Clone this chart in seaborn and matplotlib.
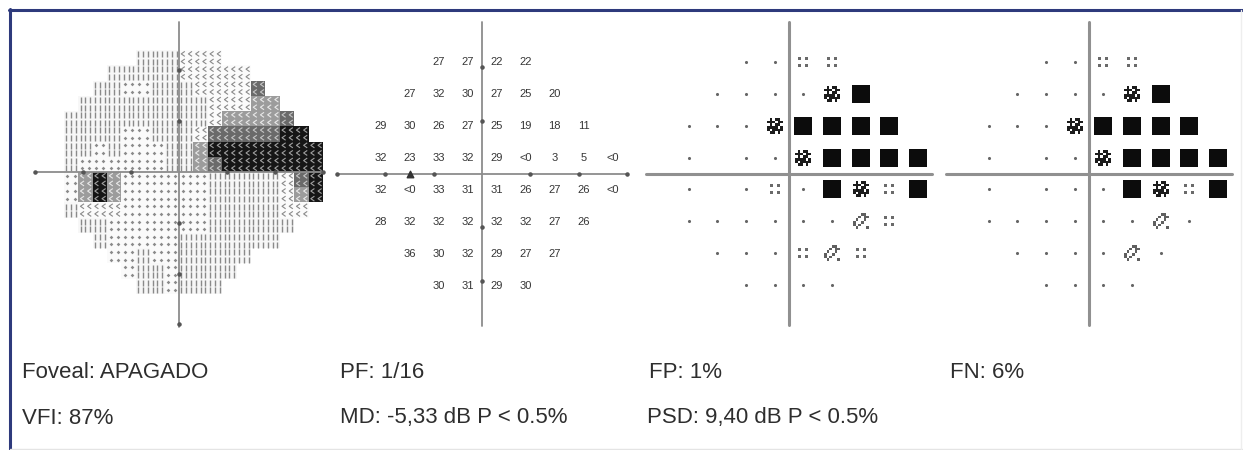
import numpy as np
import pandas as pd
import matplotlib
matplotlib.use("Agg")
import matplotlib.pyplot as plt
from matplotlib.path import Path
from matplotlib.colors import ListedColormap
from matplotlib.lines import Line2D
import seaborn as sns

# ---------------- data ----------------
ROW_Y = [21, 15, 9, 3, -3, -9, -15, -21]
ROW_X = [
    [-9, -3, 3, 9],
    [-15, -9, -3, 3, 9, 15],
    [-21, -15, -9, -3, 3, 9, 15, 21],
    [-21, -15, -9, -3, 3, 9, 15, 21, 27],
    [-21, -15, -9, -3, 3, 9, 15, 21, 27],
    [-21, -15, -9, -3, 3, 9, 15, 21],
    [-15, -9, -3, 3, 9, 15],
    [-9, -3, 3, 9],
]
THRESH = [
    ["27", "27", "22", "22"],
    ["27", "32", "30", "27", "25", "20"],
    ["29", "30", "26", "27", "25", "19", "18", "11"],
    ["32", "23", "33", "32", "29", "<0", "3", "5", "<0"],
    ["32", "<0", "33", "31", "31", "26", "27", "26", "<0"],
    ["28", "32", "32", "32", "32", "32", "27", "26"],
    ["36", "30", "32", "29", "27", "27"],
    ["30", "31", "29", "30"],
]
# probability codes: 0 normal, 1 p<5%, 2 p<2%, 3 p<1%, 4 p<0.5%, -1 not plotted
TD_PROB = [
    [0, 0, 1, 1],
    [0, 0, 0, 0, 3, 4],
    [0, 0, 0, 3, 4, 4, 4, 4],
    [0, -1, 0, 0, 3, 4, 4, 4, 4],
    [0, -1, 0, 1, 0, 4, 3, 1, 4],
    [0, 0, 0, 0, 0, 0, 2, 1],
    [0, 0, 0, 1, 2, 1],
    [0, 0, 0, 0],
]
PD_PROB = [
    [0, 0, 1, 1],
    [0, 0, 0, 0, 3, 4],
    [0, 0, 0, 3, 4, 4, 4, 4],
    [0, -1, 0, 0, 3, 4, 4, 4, 4],
    [0, -1, 0, 0, 0, 4, 3, 1, 4],
    [0, 0, 0, 0, 0, 0, 2, 0],
    [0, 0, 0, 0, 2, 0],
    [0, 0, 0, 0],
]
# grayscale map, 3-degree cells, x from -27 to 30, y from 24 down to -24
GRAY_ROWS = [
    "0000002223330000000",
    "0000222223333300000",
    "0002211222333350000",
    "0022222222233344000",
    "0222222222234444500",
    "0222211222355555660",
    "0221211122466666666",
    "0211111122456666666",
    "0146411111122222356",
    "0146411111122222346",
    "0233311111122222330",
    "0022111111122222200",
    "0002111112222222000",
    "0000112112222200000",
    "0000012212222000000",
    "0000002212220000000",
]
BOTTOM_TEXT = [
    ("Foveal: APAGADO", 22, 372), ("PF: 1/16", 340, 372),
    ("FP: 1%", 649, 372), ("FN: 6%", 950, 372),
    ("VFI: 87%", 22, 418), ("MD: -5,33 dB P < 0.5%", 340, 418),
    ("PSD: 9,40 dB P < 0.5%", 647, 418),
]

# ---------------- style ----------------
sns.set_theme(style="white")
plt.rcParams["font.family"] = ["Liberation Sans", "DejaVu Sans"]

W, H = 1243, 450
fig = plt.figure(figsize=(W / 100, H / 100), dpi=100)
fig.patch.set_facecolor("white")


def px_axes(x0, y0, x1, y1):
    return fig.add_axes([x0 / W, 1 - y1 / H, (x1 - x0) / W, (y1 - y0) / H])


def field_axes(cx, cy, sx, sy, half=32, z=3):
    ax = px_axes(cx - half * sx, cy - half * sy, cx + half * sx, cy + half * sy)
    ax.set_xlim(-half, half)
    ax.set_ylim(-half, half)
    ax.set_axis_off()
    ax.patch.set_alpha(0)
    ax.set_zorder(z)
    return ax


def squares_path(pattern):
    n = len(pattern)
    verts, codes = [], []
    d = 2.0 / n
    for r, row in enumerate(pattern):
        for c, ch in enumerate(row):
            if ch != "X":
                continue
            x0 = -1 + c * d
            y0 = 1 - (r + 1) * d
            verts += [(x0, y0), (x0 + d, y0), (x0 + d, y0 + d), (x0, y0 + d), (x0, y0)]
            codes += [Path.MOVETO, Path.LINETO, Path.LINETO, Path.LINETO, Path.CLOSEPOLY]
    verts += [(-1, -1), (-1, -1), (1, 1), (1, 1)]
    codes += [Path.MOVETO, Path.LINETO, Path.MOVETO, Path.LINETO]
    return Path(verts, codes)


FOUR_DOTS = squares_path(["X..X", "....", "....", "X..X"])
CHECK_DARK = squares_path([".X.XX.",
                           "XXX.XX",
                           ".X.XX.",
                           "XXXX.X",
                           "X.XXXX",
                           ".XX.X."])
CHECK_LIGHT = squares_path(["...XX.",
                            "..X.XX",
                            ".X..X.",
                            "X..X..",
                            "X.X...",
                            ".X...X"])
CHEVRON = Path([(0.5, 0.7), (-0.5, 0.0), (0.5, -0.7)], [Path.MOVETO, Path.LINETO, Path.LINETO])

# ---------------- panel 1: grayscale ----------------
grid = np.array([[int(c) for c in row] for row in GRAY_ROWS])
LEVEL_BG = ["#ffffff", "#fafafa", "#f7f7f7", "#fbfbfb", "#9c9c9c", "#6a6a6a", "#161616"]
hm_ax = px_axes(179 - 27 * 4.8, 172 - 24 * 5.08, 179 + 30 * 4.8, 172 + 24 * 5.08)
hm_ax.set_zorder(1)
sns.heatmap(grid, ax=hm_ax, mask=(grid == 0), cmap=ListedColormap(LEVEL_BG),
            vmin=-0.5, vmax=6.5, cbar=False, xticklabels=False, yticklabels=False,
            linewidths=0)

tex = {
    1: dict(marker="D", s=3.5, c="#8a8a8a", off_x=[0.25, 0.75], off_y=[0.25, 0.75], kind="fill"),
    2: dict(marker="|", s=16, c="#8a8a8a", off_x=[0.17, 0.5, 0.83], off_y=[0.27, 0.77], kind="line"),
    3: dict(marker=CHEVRON, s=13, c="#8a8a8a", off_x=[0.28, 0.78], off_y=[0.25, 0.75], kind="edge"),
    4: dict(marker=CHEVRON, s=13, c="#e8e8e8", off_x=[0.28, 0.78], off_y=[0.25, 0.75], kind="edge"),
    5: dict(marker=CHEVRON, s=13, c="#c4c4c4", off_x=[0.28, 0.78], off_y=[0.25, 0.75], kind="edge"),
    6: dict(marker=CHEVRON, s=13, c="#a0a0a0", off_x=[0.28, 0.78], off_y=[0.25, 0.75], kind="edge"),
}
for lvl, t in tex.items():
    cells = np.argwhere(grid == lvl)
    if len(cells) == 0:
        continue
    xs, ys = [], []
    for i, j in cells:
        for ox in t["off_x"]:
            for oy in t["off_y"]:
                xs.append(j + ox)
                ys.append(i + oy)
    if t["kind"] == "fill":
        hm_ax.scatter(xs, ys, marker=t["marker"], s=t["s"], c=t["c"], linewidths=0)
    elif t["kind"] == "line":
        hm_ax.scatter(xs, ys, marker=t["marker"], s=t["s"], c=t["c"], linewidths=1.0)
    else:
        hm_ax.scatter(xs, ys, marker=t["marker"], s=t["s"], facecolors="none",
                      edgecolors=t["c"], linewidths=0.8)
hm_ax.set_xlim(0, grid.shape[1])
hm_ax.set_ylim(grid.shape[0], 0)
hm_ax.set_axis_off()

LINE_C = "#8c8c8c"
ax1 = field_axes(179, 172, 4.8, 5.08)
ax1.plot([-30, 30], [0, 0], color=LINE_C, lw=1.3)
ax1.plot([0, 0], [-30.5, 29.5], color=LINE_C, lw=1.3)
ax1.scatter([-30, -20, -10, 10, 20, 30], [0] * 6, s=5, c="#555555", zorder=5)
ax1.scatter([0] * 5, [20, 10, -10, -20, -30], s=5, c="#555555", zorder=5)

# ---------------- panel 2: threshold values ----------------
ax2 = field_axes(482, 174, 4.83, 5.33)
ax2.plot([-30, 30], [0, 0], color=LINE_C, lw=1.3)
ax2.plot([0, 0], [-28.5, 28.5], color=LINE_C, lw=1.3)
ax2.scatter([-30, -20, -10, 10, 20, 30], [0] * 6, s=5, c="#555555", zorder=5)
ax2.scatter([0] * 4, [20, 10, -10, -20], s=5, c="#555555", zorder=5)
ax2.scatter([-15], [0], marker="^", s=22, c="#333333", zorder=5)
for y, xs, vals in zip(ROW_Y, ROW_X, THRESH):
    for x, v in zip(xs, vals):
        ax2.text(x, y, v, ha="center", va="center", fontsize=8, color="#353535")

# ---------------- panels 3 & 4: probability plots ----------------
SYMBOLS = {
    0: dict(marker="o", s=5, color="#666666"),
    1: dict(marker=FOUR_DOTS, s=42, color="#6a6a6a"),
    2: dict(marker=CHECK_LIGHT, s=135, color="#606060"),
    3: dict(marker=CHECK_DARK, s=140, color="#1c1c1c"),
    4: dict(marker="s", s=150, color="#0c0c0c"),
}


def prob_panel(cx, prob):
    ax = field_axes(cx, 173.5, 4.78, 5.33)
    ax.plot([-30, 30], [0, 0], color="#909090", lw=2.2, zorder=1)
    ax.plot([0, 0], [-28.5, 28.5], color="#909090", lw=2.2, zorder=1)
    recs = [(x, y, c) for y, xs, cs in zip(ROW_Y, ROW_X, prob) for x, c in zip(xs, cs)]
    df = pd.DataFrame(recs, columns=["x", "y", "code"])
    for code, st in SYMBOLS.items():
        sub = df[df["code"] == code]
        if len(sub) == 0:
            continue
        sns.scatterplot(data=sub, x="x", y="y", ax=ax, marker=st["marker"], s=st["s"],
                        color=st["color"], linewidth=0, legend=False, zorder=3)
    ax.set_xlim(-32, 32)
    ax.set_ylim(-32, 32)
    ax.set_axis_off()


prob_panel(789, TD_PROB)
prob_panel(1089, PD_PROB)

# ---------------- bottom text ----------------
for s, x, y in BOTTOM_TEXT:
    fig.text(x / W, 1 - y / H, s, ha="left", va="center", fontsize=16, color="#2e2e2e")

# ---------------- frame ----------------
NAVY = "#2e3a7c"
fig.add_artist(Line2D([9 / W, 1.0], [1 - 10 / H] * 2, color=NAVY, lw=2.2))
fig.add_artist(Line2D([10 / W] * 2, [0, 1 - 9 / H], color=NAVY, lw=2.2))
fig.add_artist(Line2D([10 / W, 1.0], [1.5 / H] * 2, color="#e4e4e4", lw=1.0))
fig.add_artist(Line2D([1241 / W] * 2, [0, 1 - 10 / H], color="#eeeeee", lw=1.0))

fig.savefig("out.png", dpi=100, facecolor="white")
